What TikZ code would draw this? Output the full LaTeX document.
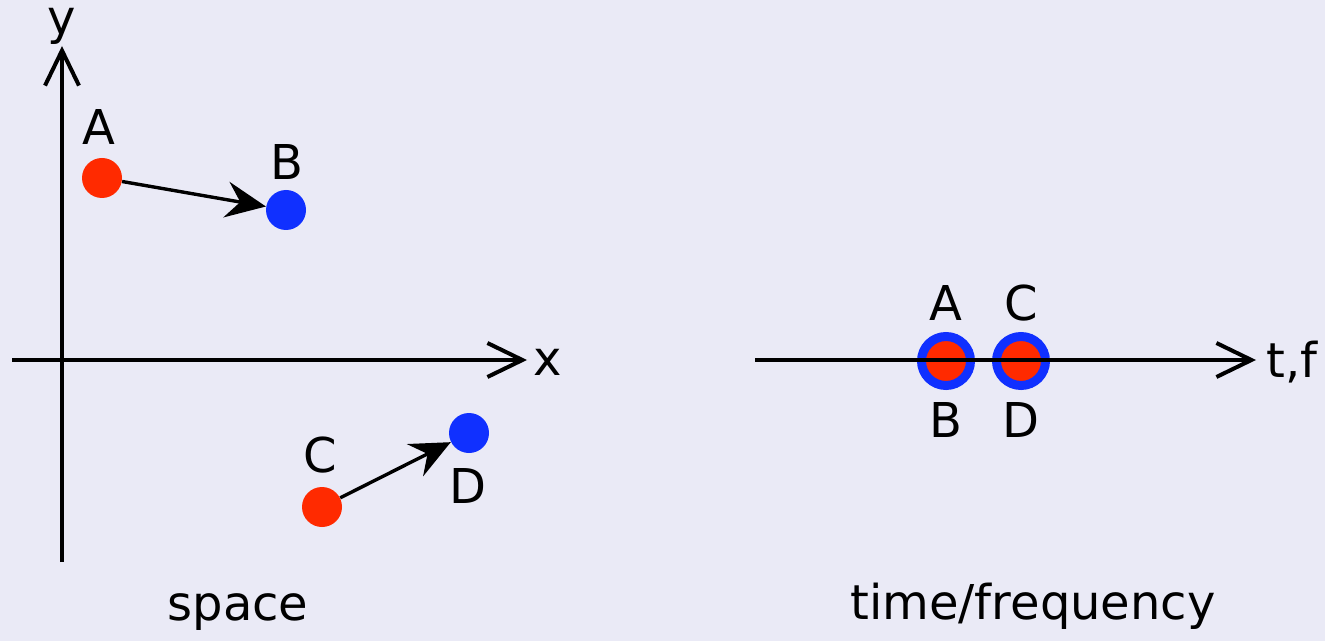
\documentclass[tikz,border=0pt]{standalone}
\usepackage{fontspec}
\setmainfont{DejaVu Sans}
\usetikzlibrary{arrows.meta}
\definecolor{bg}{RGB}{234,234,246}
\definecolor{dotred}{RGB}{255,42,0}
\definecolor{dotblue}{RGB}{16,48,255}
\begin{document}
\begin{tikzpicture}[x=0.5pt,y=-0.5pt,
  lbl/.style={inner sep=0pt,font=\fontsize{24}{29}\selectfont},
  reddot/.style={circle,fill=dotred,minimum size=20pt,inner sep=0pt},
  bluedot/.style={circle,fill=dotblue,minimum size=20pt,inner sep=0pt},
  ringdot/.style={circle,fill=dotred,draw=dotblue,line width=4.5pt,minimum size=24.5pt,inner sep=0pt},
  axis/.style={line width=2pt,-{Straight Barb[length=17.5pt,width=17pt,line width=2pt]}},
  mv/.style={line width=1.7pt,-{Stealth[length=20pt,width=18pt,inset=7pt]}}]
\fill[bg] (0,0) rectangle (1325,641);
\useasboundingbox (0,0) rectangle (1325,641);
% left panel axes
\coordinate (ybot) at (62,562);
\coordinate (ytop) at (62,46);
\coordinate (xl) at (12,360);
\coordinate (xr) at (527,360);
\draw[axis] (ybot) -- (ytop);
\draw[axis] (xl) -- (xr);
\node[lbl] (ylab) at (62,26) {y};
\node[lbl] (xlab) at (548,362) {x};
% points
\node[reddot] (A) at (102,178) {};
\node[bluedot] (B) at (286,210) {};
\node[reddot] (C) at (322,507) {};
\node[bluedot] (D) at (469,433) {};
\node[lbl] (Al) at (99,127) {A};
\node[lbl] (Bl) at (287,162) {B};
\node[lbl] (Cl) at (320,455) {C};
\node[lbl] (Dl) at (468,486) {D};
\draw[mv] (A) -- (B);
\draw[mv] (C) -- (D);
\node[lbl] (space) at (238,612) {space};
% right panel
\coordinate (tl) at (755,360);
\coordinate (tr) at (1256,360);
\node[ringdot] (AB) at (946,361) {};
\node[ringdot] (CD) at (1021,361) {};
\draw[axis] (tl) -- (tr);
\node[lbl] (tf) at (1292,362) {t,f};
\node[lbl] (A2) at (946,303) {A};
\node[lbl] (C2) at (1021,303) {C};
\node[lbl] (B2) at (946,420) {B};
\node[lbl] (D2) at (1021,420) {D};
\node[lbl] (tfreq) at (1033,606) {time/frequency};
\end{tikzpicture}
\end{document}
